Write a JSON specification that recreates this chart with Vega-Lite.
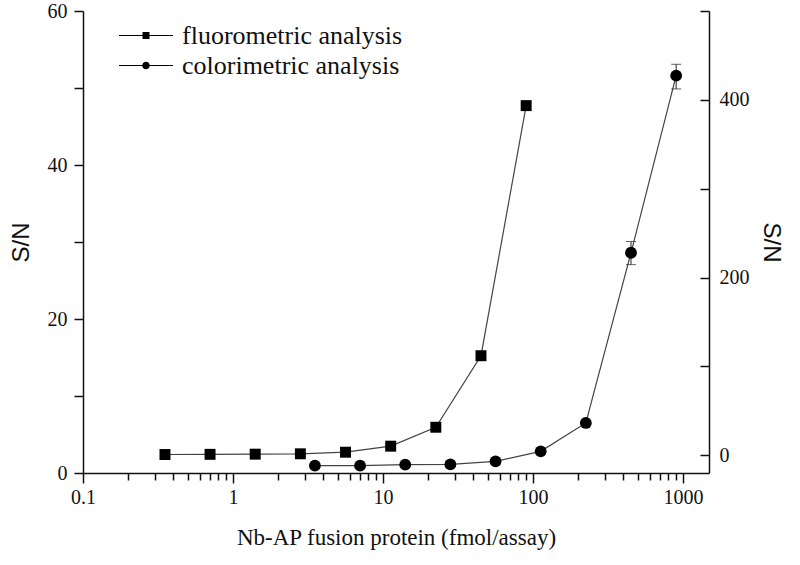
{
  "$schema": "https://vega.github.io/schema/vega-lite/v6.json",
  "width": 626,
  "height": 462,
  "autosize": {"type": "none"},
  "padding": {"left": 83, "top": 11, "right": 91, "bottom": 92},
  "background": "white",
  "config": {
    "font": "Liberation Serif",
    "view": {"stroke": null},
    "axis": {
      "labelFont": "Liberation Serif",
      "titleFont": "Liberation Serif",
      "labelFontSize": 20,
      "titleFontSize": 23,
      "titleFontWeight": "normal",
      "labelColor": "#111",
      "titleColor": "#111",
      "domainColor": "#111",
      "tickColor": "#111",
      "domainWidth": 1.5,
      "tickWidth": 1.5,
      "grid": false
    }
  },
  "datasets": {
    "fluoro": [
      {"conc": 0.352, "sn": 0.8, "series": "fluorometric analysis"},
      {"conc": 0.703, "sn": 1.0, "series": "fluorometric analysis"},
      {"conc": 1.406, "sn": 1.2, "series": "fluorometric analysis"},
      {"conc": 2.8125, "sn": 1.6, "series": "fluorometric analysis"},
      {"conc": 5.625, "sn": 3.4, "series": "fluorometric analysis"},
      {"conc": 11.25, "sn": 10.2, "series": "fluorometric analysis"},
      {"conc": 22.5, "sn": 31.5, "series": "fluorometric analysis"},
      {"conc": 45, "sn": 112, "series": "fluorometric analysis"},
      {"conc": 90, "sn": 393.5, "series": "fluorometric analysis"}
    ],
    "colori": [
      {"conc": 3.516, "sn": 0.95, "lo": 0.95, "hi": 0.95, "series": "colorimetric analysis"},
      {"conc": 7.031, "sn": 0.95, "lo": 0.95, "hi": 0.95, "series": "colorimetric analysis"},
      {"conc": 14.06, "sn": 1.08, "lo": 1.08, "hi": 1.08, "series": "colorimetric analysis"},
      {"conc": 28.125, "sn": 1.12, "lo": 1.12, "hi": 1.12, "series": "colorimetric analysis"},
      {"conc": 56.25, "sn": 1.51, "lo": 1.51, "hi": 1.51, "series": "colorimetric analysis"},
      {"conc": 112.5, "sn": 2.81, "lo": 2.81, "hi": 2.81, "series": "colorimetric analysis"},
      {"conc": 225, "sn": 6.5, "lo": 6.5, "hi": 6.5, "series": "colorimetric analysis"},
      {"conc": 450, "sn": 28.6, "lo": 27.06, "hi": 30.06, "series": "colorimetric analysis"},
      {"conc": 900, "sn": 51.6, "lo": 49.88, "hi": 53.08, "series": "colorimetric analysis"}
    ]
  },
  "layer": [
    {
      "data": {"name": "fluoro"},
      "encoding": {
        "x": {
          "field": "conc",
          "type": "quantitative",
          "scale": {"type": "log", "domain": [0.1, 1490], "nice": false},
          "axis": {
            "orient": "bottom",
            "values": [0.1, 1, 10, 100, 1000],
            "format": "~f",
            "tickSize": 10,
            "labelPadding": 4,
            "labelFlush": false,
            "title": "Nb-AP fusion protein (fmol/assay)",
            "titlePadding": 19
          }
        },
        "y": {
          "field": "sn",
          "type": "quantitative",
          "scale": {"domain": [-20, 500], "nice": false, "zero": false},
          "axis": {
            "orient": "right",
            "values": [0, 100, 200, 300, 400, 500],
            "labelExpr": "datum.value % 200 === 0 ? datum.label : ''",
            "tickSize": -9,
            "labelPadding": 19,
            "title": "S/N",
            "titleFont": "Liberation Sans",
            "titleFontSize": 24,
            "titlePadding": 9
          }
        }
      },
      "layer": [
        {"mark": {"type": "line", "color": "#444", "strokeWidth": 1.2}},
        {
          "mark": {"type": "point", "filled": true, "color": "black", "opacity": 1, "size": 120, "shape": "square"}
        },
        {
          "mark": {"type": "point", "filled": true, "color": "black", "opacity": 0},
          "encoding": {
            "shape": {
              "field": "series",
              "type": "nominal",
              "scale": {
                "domain": ["fluorometric analysis", "colorimetric analysis"],
                "range": [
                  "M-5.4,-0.11H5.4V0.11H-5.4Z M-0.7,-0.7H0.7V0.7H-0.7Z",
                  "M-5.4,-0.11H5.4V0.11H-5.4Z M0.75,0A0.75,0.75 0 1 1 -0.75,0A0.75,0.75 0 1 1 0.75,0Z"
                ]
              },
              "legend": {
                "title": null,
                "orient": "none",
                "legendX": 50,
                "legendY": 11.5,
                "padding": 0,
                "symbolOffset": 0,
                "symbolSize": 100,
                "symbolOpacity": 1,
                "symbolStrokeWidth": 0,
                "symbolFillColor": "black",
                "labelOffset": 23,
                "labelFont": "Liberation Serif",
                "labelFontSize": 26,
                "labelColor": "#111",
                "rowPadding": 4,
                "labelLimit": 400
              }
            }
          }
        }
      ]
    },
    {
      "data": {"name": "colori"},
      "encoding": {
        "x": {
          "field": "conc",
          "type": "quantitative",
          "scale": {"type": "log", "domain": [0.1, 1490], "nice": false},
          "axis": {
            "orient": "bottom",
            "values": [0.2, 0.3, 0.4, 0.5, 0.6, 0.7, 0.8, 0.9, 2, 3, 4, 5, 6, 7, 8, 9, 20, 30, 40, 50, 60, 70, 80, 90, 200, 300, 400, 500, 600, 700, 800, 900],
            "labels": false,
            "domain": false,
            "tickSize": 7,
            "title": null
          }
        }
      },
      "layer": [
        {
          "mark": {"type": "line", "color": "#444", "strokeWidth": 1.2},
          "encoding": {
            "y": {
              "field": "sn",
              "type": "quantitative",
              "scale": {"domain": [0, 60], "nice": false},
              "axis": {
                "orient": "left",
                "values": [0, 10, 20, 30, 40, 50, 60],
                "labelExpr": "datum.value % 20 === 0 ? datum.label : ''",
                "tickSize": 9,
                "labelPadding": 7,
                "title": "S/N",
                "titleFont": "Liberation Sans",
                "titleFontSize": 24,
                "titlePadding": 14
              }
            }
          }
        },
        {
          "mark": {"type": "rule", "color": "#222", "strokeWidth": 1},
          "encoding": {
            "y": {"field": "lo", "type": "quantitative"},
            "y2": {"field": "hi"}
          }
        },
        {
          "mark": {"type": "tick", "orient": "horizontal", "color": "#222", "size": 10, "thickness": 1},
          "encoding": {"y": {"field": "lo", "type": "quantitative"}}
        },
        {
          "mark": {"type": "tick", "orient": "horizontal", "color": "#222", "size": 10, "thickness": 1},
          "encoding": {"y": {"field": "hi", "type": "quantitative"}}
        },
        {
          "mark": {"type": "point", "filled": true, "color": "black", "opacity": 1, "size": 140, "shape": "circle"},
          "encoding": {
            "y": {"field": "sn", "type": "quantitative"}
          }
        }
      ]
    }
  ],
  "resolve": {"scale": {"y": "independent"}, "axis": {"x": "independent"}}
}
